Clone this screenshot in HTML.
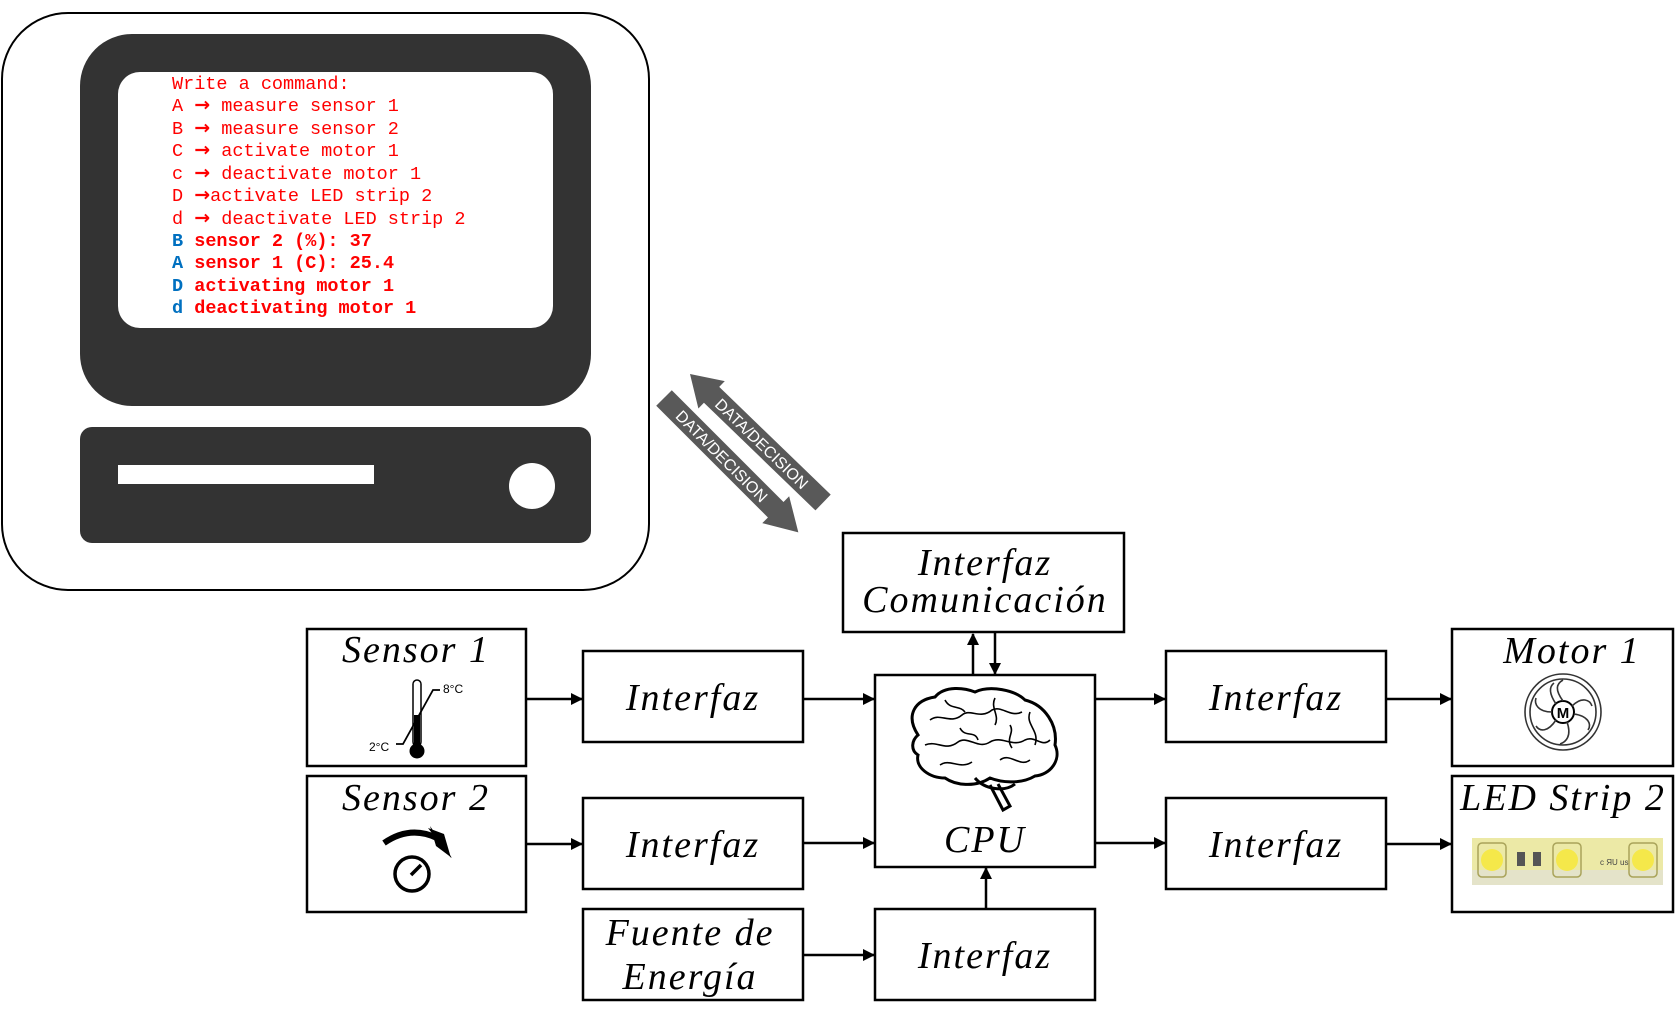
<!DOCTYPE html>
<html><head><meta charset="utf-8"><style>
html,body{margin:0;padding:0;background:#fff;}
svg{display:block;}
.m{font-family:"Liberation Mono",monospace;font-size:18.5px;fill:#ff0000;}
.b{font-weight:bold;}
.bl{fill:#0070c0;font-weight:bold;}
.ar{font-family:"DejaVu Sans",sans-serif;font-weight:bold;font-size:19px;}
.t{font-family:"Liberation Serif",serif;font-style:italic;font-size:38px;letter-spacing:2px;fill:#000;}
</style></head><body>
<svg width="1677" height="1014" viewBox="0 0 1677 1014" xmlns="http://www.w3.org/2000/svg">
<defs>
<marker id="ah" markerWidth="12" markerHeight="12" refX="11" refY="6" orient="auto" markerUnits="userSpaceOnUse">
<path d="M0,0 L12,6 L0,12 z" fill="#000"/></marker>
</defs>
<rect x="2" y="13" width="647" height="577" rx="66" fill="#fff" stroke="#000" stroke-width="2"/>
<rect x="80" y="34" width="511" height="372" rx="52" fill="#333"/>
<rect x="118" y="72" width="435" height="256" rx="22" fill="#fff"/>
<rect x="80" y="427" width="511" height="116" rx="12" fill="#333"/>
<rect x="118" y="465" width="256" height="19" fill="#fff"/>
<circle cx="532" cy="486" r="23" fill="#fff"/>
<g>
<text class="m" x="172" y="89">Write a command:</text>
<text class="m" x="172" y="111">A <tspan class="ar">→</tspan> measure sensor 1</text>
<text class="m" x="172" y="134">B <tspan class="ar">→</tspan> measure sensor 2</text>
<text class="m" x="172" y="156">C <tspan class="ar">→</tspan> activate motor 1</text>
<text class="m" x="172" y="179">c <tspan class="ar">→</tspan> deactivate motor 1</text>
<text class="m" x="172" y="201">D <tspan class="ar">→</tspan>activate LED strip 2</text>
<text class="m" x="172" y="224">d <tspan class="ar">→</tspan> deactivate LED strip 2</text>
<text class="m b" x="172" y="246"><tspan class="bl">B</tspan> sensor 2 (%): 37</text>
<text class="m b" x="172" y="268"><tspan class="bl">A</tspan> sensor 1 (C): 25.4</text>
<text class="m b" x="172" y="291"><tspan class="bl">D</tspan> activating motor 1</text>
<text class="m b" x="172" y="313"><tspan class="bl">d</tspan> deactivating motor 1</text>
</g>
<g transform="translate(690,374) rotate(44)" >
<polygon points="0,0 30,-19 30,-11 185,-11 185,11 30,11 30,19" fill="#595959"/>
<text x="100" y="6" text-anchor="middle" font-family="Liberation Sans,sans-serif" font-size="16" fill="#fff">DATA/DECISION</text>
</g>
<g transform="translate(664,398) rotate(45)">
<polygon points="0,-11 158,-11 158,-19 190,0 158,19 158,11 0,11" fill="#595959"/>
<text x="82" y="6" text-anchor="middle" font-family="Liberation Sans,sans-serif" font-size="16" fill="#fff">DATA/DECISION</text>
</g>
<g fill="#fff" stroke="#000" stroke-width="2.5">
<rect x="843" y="533" width="281" height="99"/>
<rect x="307" y="629" width="219" height="137"/>
<rect x="307" y="776" width="219" height="136"/>
<rect x="583" y="651" width="220" height="91"/>
<rect x="583" y="798" width="220" height="91"/>
<rect x="583" y="909" width="220" height="91"/>
<rect x="875" y="675" width="220" height="192"/>
<rect x="875" y="909" width="220" height="91"/>
<rect x="1166" y="651" width="220" height="91"/>
<rect x="1166" y="798" width="220" height="91"/>
<rect x="1452" y="629" width="221" height="137"/>
<rect x="1452" y="776" width="221" height="136"/>
</g>
<g stroke="#000" stroke-width="2.5" marker-end="url(#ah)">
<line x1="526" y1="699" x2="582" y2="699"/>
<line x1="526" y1="844" x2="582" y2="844"/>
<line x1="803" y1="699" x2="874" y2="699"/>
<line x1="803" y1="843" x2="874" y2="843"/>
<line x1="803" y1="955" x2="874" y2="955"/>
<line x1="986" y1="909" x2="986" y2="868"/>
<line x1="973" y1="675" x2="973" y2="634"/>
<line x1="995" y1="633" x2="995" y2="674"/>
<line x1="1095" y1="699" x2="1165" y2="699"/>
<line x1="1095" y1="843" x2="1165" y2="843"/>
<line x1="1386" y1="699" x2="1451" y2="699"/>
<line x1="1386" y1="844" x2="1451" y2="844"/>
</g>
<g class="t" text-anchor="middle">
<text class="t" x="985" y="575">Interfaz</text>
<text class="t" x="985" y="612">Comunicación</text>
<text class="t" x="416" y="662">Sensor 1</text>
<text class="t" x="416" y="810">Sensor 2</text>
<text class="t" x="693" y="710">Interfaz</text>
<text class="t" x="693" y="857">Interfaz</text>
<text class="t" x="690" y="945">Fuente de</text>
<text class="t" x="690" y="989">Energía</text>
<text class="t" x="985" y="852">CPU</text>
<text class="t" x="985" y="968">Interfaz</text>
<text class="t" x="1276" y="710">Interfaz</text>
<text class="t" x="1276" y="857">Interfaz</text>
<text class="t" x="1572" y="663">Motor 1</text>
<text class="t" x="1563" y="810">LED Strip 2</text>
</g>
<rect x="413" y="680" width="8" height="66" rx="4" fill="#fff" stroke="#000" stroke-width="1.5"/>
<rect x="414" y="715" width="6" height="32" fill="#000"/>
<circle cx="417" cy="751" r="7.5" fill="#000"/>
<polyline points="396,744 403,744 433,690 440,690" fill="none" stroke="#000" stroke-width="1.8"/>
<text x="443" y="693" font-family="Liberation Sans,sans-serif" font-size="12">8°C</text>
<text x="369" y="751" font-family="Liberation Sans,sans-serif" font-size="12">2°C</text>
<circle cx="412" cy="874" r="17" fill="none" stroke="#000" stroke-width="3.5"/>
<line x1="411" y1="875" x2="421" y2="865" stroke="#000" stroke-width="3.5"/>
<path d="M384,843 Q410,825 437,838" fill="none" stroke="#000" stroke-width="6"/>
<polygon points="428,828 451,858 444,834" fill="#000"/>
<polygon points="430,826 452,858 436,846" fill="#000"/>
<g fill="none" stroke="#000" stroke-width="3">
<path d="M918,735 C905,715 915,700 935,697 C945,685 965,688 975,692 C990,685 1015,690 1025,700 C1045,705 1058,725 1055,745 C1062,760 1050,775 1035,776 C1020,785 1000,782 990,778 C975,788 955,785 945,778 C930,778 915,768 918,755 C910,750 912,740 918,735 Z"/>
<path d="M975,778 C985,790 1005,792 1015,784" />
<path d="M990,785 L1003,810 L1010,806 L998,784"/>
</g>
<g fill="none" stroke="#000" stroke-width="1.6">
<path d="M930,720 C940,712 950,725 962,715 C970,708 980,720 992,710 C1002,705 1010,718 1022,712"/>
<path d="M925,745 C938,740 945,752 958,742 C968,735 978,750 990,742 C1002,735 1012,748 1025,740 C1035,735 1042,748 1050,740"/>
<path d="M945,700 C950,710 960,705 965,712 M995,698 C990,708 1000,715 995,725 M1030,712 C1025,725 1040,730 1035,745"/>
<path d="M940,765 C950,758 960,770 972,762 M1000,760 C1010,752 1020,768 1030,760"/>
<path d="M960,728 C965,738 975,730 978,740 M1010,725 C1015,733 1005,738 1012,748"/>
</g>
<g fill="none" stroke="#333" stroke-width="1.6">
<circle cx="1563" cy="712" r="38"/>
<circle cx="1563" cy="712" r="33"/>
<circle cx="1563" cy="712" r="11" stroke="#000" stroke-width="2"/>
<path d="M1563,701 C1555,690 1556,684 1563,680 M1572,706 C1582,696 1590,700 1592,706 M1574,714 C1588,716 1592,724 1588,730 M1567,722 C1572,736 1566,742 1560,744 M1556,720 C1548,732 1540,732 1536,726 M1552,712 C1538,712 1534,704 1536,698 M1556,704 C1548,692 1550,686 1554,683"/>
</g>
<text x="1563" y="718" text-anchor="middle" font-family="Liberation Sans,sans-serif" font-weight="bold" font-size="15">M</text>
<rect x="1472" y="838" width="191" height="47" fill="#ece9a6"/>
<rect x="1472" y="870" width="191" height="15" fill="#e4e3c9"/>
<rect x="1478" y="843" width="28" height="34" rx="4" fill="none" stroke="#a9a35a" stroke-width="1.5"/>
<rect x="1553" y="843" width="28" height="34" rx="4" fill="none" stroke="#a9a35a" stroke-width="1.5"/>
<rect x="1629" y="843" width="28" height="34" rx="4" fill="none" stroke="#a9a35a" stroke-width="1.5"/>
<circle cx="1492" cy="860" r="11" fill="#f5e84a"/>
<circle cx="1567" cy="860" r="11" fill="#f5e84a"/>
<circle cx="1643" cy="860" r="11" fill="#f5e84a"/>
<rect x="1517" y="852" width="8" height="14" fill="#555"/>
<rect x="1533" y="852" width="8" height="14" fill="#555"/>
<text x="1600" y="865" font-family="Liberation Sans,sans-serif" font-size="8" fill="#444">c ЯU us</text>
</svg>
</body></html>
